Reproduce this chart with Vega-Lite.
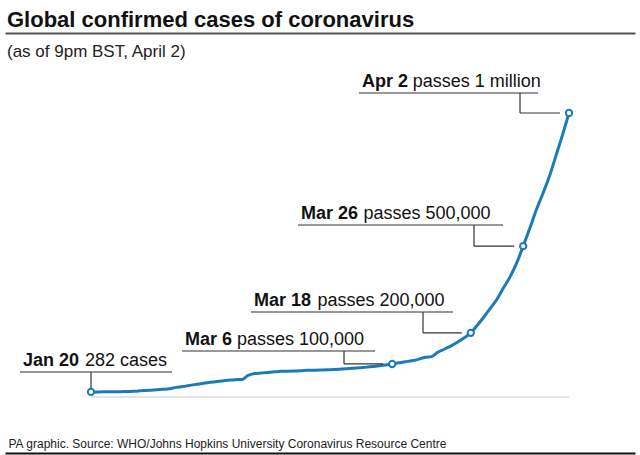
{
  "$schema": "https://vega.github.io/schema/vega-lite/v6.json",
  "autosize": {"type": "none"},
  "padding": {"left": 5, "top": 33, "right": 5, "bottom": 2},
  "width": 630,
  "height": 420,
  "background": "white",
  "title": {
    "text": "Global confirmed cases of coronavirus",
    "subtitle": "(as of 9pm BST, April 2)",
    "anchor": "start",
    "frame": "group",
    "dx": 2,
    "offset": -28,
    "subtitlePadding": 12,
    "font": "Liberation Sans",
    "fontSize": 22,
    "fontWeight": "bold",
    "color": "#111111",
    "subtitleFont": "Liberation Sans",
    "subtitleFontSize": 17,
    "subtitleColor": "#222222"
  },
  "config": {
    "view": {"stroke": null},
    "font": "Liberation Sans"
  },
  "datasets": {
    "cases": [
      {"date": "2020-01-20", "cases": 282},
      {"date": "2020-01-21", "cases": 314},
      {"date": "2020-01-22", "cases": 555},
      {"date": "2020-01-23", "cases": 654},
      {"date": "2020-01-24", "cases": 941},
      {"date": "2020-01-25", "cases": 1434},
      {"date": "2020-01-26", "cases": 2118},
      {"date": "2020-01-27", "cases": 2927},
      {"date": "2020-01-28", "cases": 5578},
      {"date": "2020-01-29", "cases": 6166},
      {"date": "2020-01-30", "cases": 8234},
      {"date": "2020-01-31", "cases": 9927},
      {"date": "2020-02-01", "cases": 12038},
      {"date": "2020-02-02", "cases": 16787},
      {"date": "2020-02-03", "cases": 19881},
      {"date": "2020-02-04", "cases": 23892},
      {"date": "2020-02-05", "cases": 27635},
      {"date": "2020-02-06", "cases": 30794},
      {"date": "2020-02-07", "cases": 34391},
      {"date": "2020-02-08", "cases": 37120},
      {"date": "2020-02-09", "cases": 40150},
      {"date": "2020-02-10", "cases": 42762},
      {"date": "2020-02-11", "cases": 44802},
      {"date": "2020-02-12", "cases": 45221},
      {"date": "2020-02-13", "cases": 60368},
      {"date": "2020-02-14", "cases": 66885},
      {"date": "2020-02-15", "cases": 69030},
      {"date": "2020-02-16", "cases": 71224},
      {"date": "2020-02-17", "cases": 73258},
      {"date": "2020-02-18", "cases": 75136},
      {"date": "2020-02-19", "cases": 75639},
      {"date": "2020-02-20", "cases": 76197},
      {"date": "2020-02-21", "cases": 76819},
      {"date": "2020-02-22", "cases": 78572},
      {"date": "2020-02-23", "cases": 78958},
      {"date": "2020-02-24", "cases": 79561},
      {"date": "2020-02-25", "cases": 80406},
      {"date": "2020-02-26", "cases": 81388},
      {"date": "2020-02-27", "cases": 82746},
      {"date": "2020-02-28", "cases": 84112},
      {"date": "2020-02-29", "cases": 86011},
      {"date": "2020-03-01", "cases": 88369},
      {"date": "2020-03-02", "cases": 90306},
      {"date": "2020-03-03", "cases": 92840},
      {"date": "2020-03-04", "cases": 95120},
      {"date": "2020-03-05", "cases": 97886},
      {"date": "2020-03-06", "cases": 101801},
      {"date": "2020-03-07", "cases": 105847},
      {"date": "2020-03-08", "cases": 109821},
      {"date": "2020-03-09", "cases": 113590},
      {"date": "2020-03-10", "cases": 118620},
      {"date": "2020-03-11", "cases": 125875},
      {"date": "2020-03-12", "cases": 128352},
      {"date": "2020-03-13", "cases": 145205},
      {"date": "2020-03-14", "cases": 156101},
      {"date": "2020-03-15", "cases": 167454},
      {"date": "2020-03-16", "cases": 181574},
      {"date": "2020-03-17", "cases": 197102},
      {"date": "2020-03-18", "cases": 214821},
      {"date": "2020-03-19", "cases": 242570},
      {"date": "2020-03-20", "cases": 272208},
      {"date": "2020-03-21", "cases": 304507},
      {"date": "2020-03-22", "cases": 336953},
      {"date": "2020-03-23", "cases": 378235},
      {"date": "2020-03-24", "cases": 418045},
      {"date": "2020-03-25", "cases": 467653},
      {"date": "2020-03-26", "cases": 529591},
      {"date": "2020-03-27", "cases": 593291},
      {"date": "2020-03-28", "cases": 660706},
      {"date": "2020-03-29", "cases": 720117},
      {"date": "2020-03-30", "cases": 782365},
      {"date": "2020-03-31", "cases": 857487},
      {"date": "2020-04-01", "cases": 932605},
      {"date": "2020-04-02", "cases": 1013157}
    ],
    "notes": [
      {"date": "2020-01-20", "cases": 282, "bold": "Jan 20", "rest": "282 cases", "uStart": "2020-01-09T03:46:00Z", "uEnd": "2020-02-01T08:53:00Z", "restAt": "2020-01-19T02:01:00Z", "uLevel": 72600, "elbow": "2020-01-20"},
      {"date": "2020-03-06", "cases": 101801, "bold": "Mar 6", "rest": "passes 100,000", "uStart": "2020-02-02T21:32:00Z", "uEnd": "2020-03-03T08:56:00Z", "restAt": "2020-02-11T07:08:00Z", "uLevel": 148900, "elbow": "2020-02-27T15:22:00Z"},
      {"date": "2020-03-18", "cases": 214821, "bold": "Mar 18", "rest": "passes 200,000", "uStart": "2020-02-13T10:26:00Z", "uEnd": "2020-03-15T06:50:00Z", "restAt": "2020-02-23T14:10:00Z", "uLevel": 290500, "elbow": "2020-03-10T16:52:00Z"},
      {"date": "2020-03-26", "cases": 529591, "bold": "Mar 26", "rest": "passes 500,000", "uStart": "2020-02-20T14:43:00Z", "uEnd": "2020-03-22T22:05:00Z", "restAt": "2020-03-01T14:53:00Z", "uLevel": 606400, "elbow": "2020-03-18T11:46:00Z"},
      {"date": "2020-04-02", "cases": 1013157, "bold": "Apr 2", "rest": "passes 1 million", "uStart": "2020-02-29T22:19:00Z", "uEnd": "2020-03-28T06:29:00Z", "restAt": "2020-03-09T03:07:00Z", "uLevel": 1085700, "elbow": "2020-03-25T12:29:00Z"}
    ]
  },
  "resolve": {"axis": {"x": "independent"}},
  "layer": [
    {
      "data": {"name": "cases"},
      "mark": {"type": "line", "color": "#1b7bb8", "strokeWidth": 3, "interpolate": "monotone", "strokeCap": "round"},
      "encoding": {
        "x": {
          "field": "date", "type": "temporal",
          "scale": {"type": "utc", "domain": [
            {"year": 2020, "month": 1, "date": 6, "hours": 20, "minutes": 47, "utc": true},
            {"year": 2020, "month": 4, "date": 12, "hours": 1, "minutes": 55, "utc": true}
          ], "nice": false},
          "axis": {
            "orient": "bottom", "domain": true, "domainColor": "#111111", "domainWidth": 2,
            "ticks": false, "labels": false, "grid": false,
            "title": "PA graphic. Source: WHO/Johns Hopkins University Coronavirus Resource Centre",
            "titleX": 3, "titleY": -6, "titleAlign": "left", "titleAnchor": "start", "titleBaseline": "alphabetic",
            "titleFont": "Liberation Sans", "titleFontSize": 12, "titleFontWeight": "normal", "titleColor": "#222222"
          }
        },
        "y": {
          "field": "cases", "type": "quantitative",
          "scale": {"domain": [-221500, 1303560], "nice": false, "zero": false},
          "axis": null
        }
      }
    },
    {
      "data": {"name": "notes"},
      "transform": [{"filter": "datum.bold == 'Jan 20'"}],
      "mark": {"type": "rule", "color": "#c8c8c8", "strokeWidth": 1},
      "encoding": {
        "x": {"datum": {"year": 2020, "month": 1, "date": 20, "utc": true}, "type": "temporal", "axis": null},
        "x2": {"datum": {"year": 2020, "month": 4, "date": 2, "utc": true}},
        "y": {"datum": -18155, "type": "quantitative", "axis": null}
      }
    },
    {
      "data": {"name": "notes"},
      "mark": {"type": "rule", "color": "#333333", "strokeWidth": 1.2},
      "encoding": {
        "x": {"field": "uStart", "type": "temporal", "axis": {
          "orient": "top", "domain": true, "domainColor": "#555555", "domainWidth": 2,
          "ticks": false, "labels": false, "grid": false, "title": null
        }},
        "x2": {"field": "uEnd"},
        "y": {"field": "uLevel", "type": "quantitative", "axis": null}
      }
    },
    {
      "data": {"name": "notes"},
      "mark": {"type": "rule", "color": "#333333", "strokeWidth": 1.2},
      "encoding": {
        "x": {"field": "elbow", "type": "temporal", "axis": null},
        "y": {"field": "uLevel", "type": "quantitative", "axis": null},
        "y2": {"field": "cases"}
      }
    },
    {
      "data": {"name": "notes"},
      "transform": [{"filter": "datum.bold != 'Jan 20'"}],
      "mark": {"type": "rule", "color": "#333333", "strokeWidth": 1.2, "x2Offset": -9},
      "encoding": {
        "x": {"field": "elbow", "type": "temporal", "axis": null},
        "x2": {"field": "date"},
        "y": {"field": "cases", "type": "quantitative", "axis": null}
      }
    },
    {
      "data": {"name": "notes"},
      "mark": {"type": "text", "align": "left", "baseline": "alphabetic", "dx": 3, "dy": -6, "fontSize": 18, "fontWeight": "bold", "font": "Liberation Sans", "color": "#111111"},
      "encoding": {
        "x": {"field": "uStart", "type": "temporal", "axis": null},
        "y": {"field": "uLevel", "type": "quantitative", "axis": null},
        "text": {"field": "bold"}
      }
    },
    {
      "data": {"name": "notes"},
      "mark": {"type": "text", "align": "left", "baseline": "alphabetic", "dy": -6, "fontSize": 18, "font": "Liberation Sans", "color": "#111111"},
      "encoding": {
        "x": {"field": "restAt", "type": "temporal", "axis": null},
        "y": {"field": "uLevel", "type": "quantitative", "axis": null},
        "text": {"field": "rest"}
      }
    },
    {
      "data": {"name": "notes"},
      "mark": {"type": "point", "shape": "circle", "filled": true, "fill": "white", "stroke": "#1b7bb8", "strokeWidth": 2, "size": 40, "opacity": 1},
      "encoding": {
        "x": {"field": "date", "type": "temporal", "axis": null},
        "y": {"field": "cases", "type": "quantitative", "axis": null}
      }
    }
  ]
}
